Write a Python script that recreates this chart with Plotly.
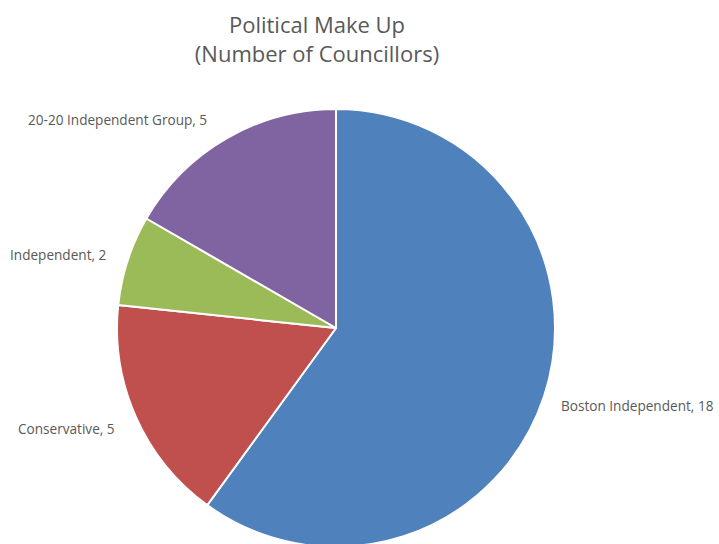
import plotly.graph_objects as go

# Data
parties = ["Boston Independent", "Conservative", "Independent", "20-20 Independent Group"]
councillors = [18, 5, 2, 5]
colors = ["#4F81BD", "#C0504D", "#9BBB59", "#8064A2"]

W, H = 719, 560
# label anchor positions (px, from top-left), same order as parties
label_pos = [(559, 405), (16, 429), (8, 254), (26, 119)]

fig = go.Figure(go.Pie(
    labels=parties,
    values=councillors,
    sort=False,
    direction="clockwise",
    rotation=0,
    marker=dict(colors=colors, line=dict(color="white", width=2)),
    textinfo="none",
    hoverinfo="label+value",
    showlegend=False,
    domain=dict(x=[117 / W, 555 / W], y=[(H - 547) / H, (H - 109) / H]),
))

annotations = []
for name, val, (px, py) in zip(parties, councillors, label_pos):
    annotations.append(dict(
        text=f"{name}, {val}", x=px / W, y=(H - py) / H,
        xref="paper", yref="paper", xanchor="left", yanchor="middle",
        showarrow=False, font=dict(family="Open Sans", size=13.6, color="#595959"),
    ))

fig.update_layout(
    width=W, height=H,
    margin=dict(l=0, r=0, t=0, b=0),
    paper_bgcolor="white", plot_bgcolor="white",
    title=dict(
        text="Political Make Up<br>(Number of Councillors)",
        x=317 / W, xanchor="center", y=(H - 33) / H, yanchor="middle",
        font=dict(family="Open Sans", size=22, color="#595959"),
    ),
    annotations=annotations,
)

fig.write_html("out.html", post_script="document.body.style.margin='0';document.body.style.overflow='hidden';document.documentElement.style.overflow='hidden';")
